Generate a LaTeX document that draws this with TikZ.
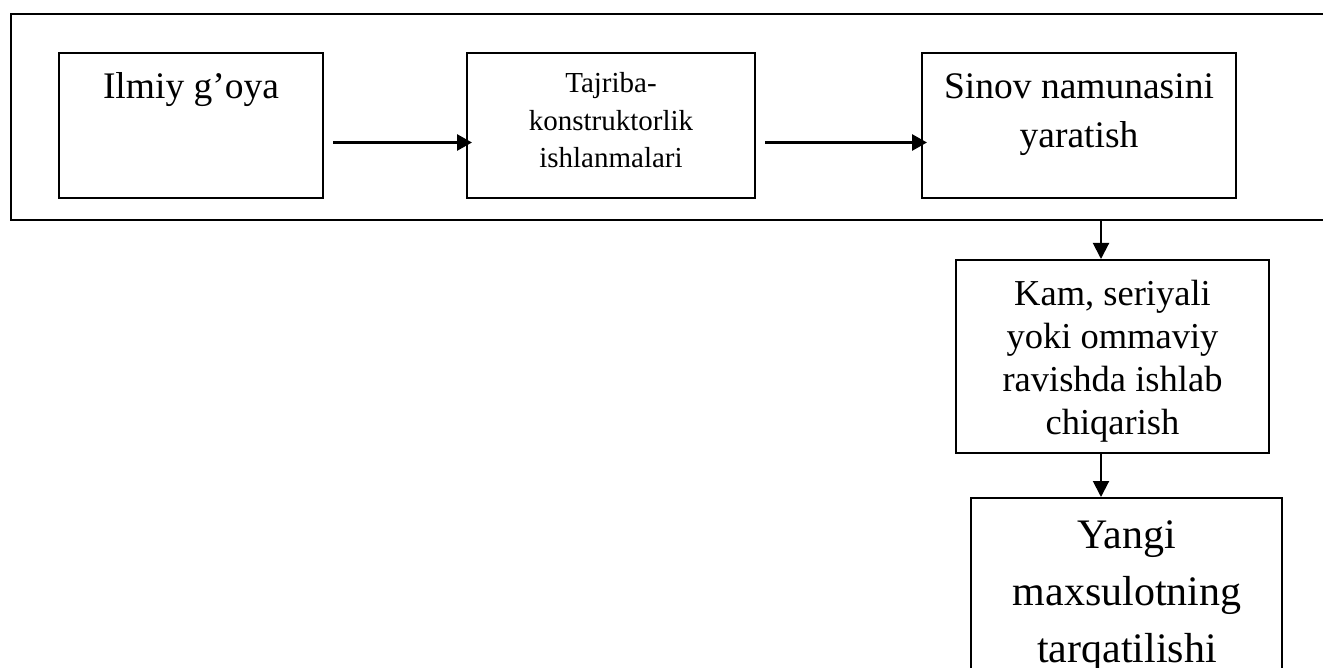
\documentclass[tikz,border=0pt]{standalone}
\usepackage{fontspec}
\setmainfont{Liberation Serif}
\usetikzlibrary{arrows.meta}
\newcommand{\mylines}[1]{\begin{tabular}[t]{@{}c@{}}#1\end{tabular}}
\tikzset{
  box/.style={draw=black, line width=2pt, inner sep=0pt, fill=none},
  txt/.style={inner sep=0pt, anchor=base, text=black},
  harr/.style={line width=2.8pt, -{Triangle[length=15pt,width=16pt]}},
  varr/.style={line width=2pt, -{Triangle[length=16pt,width=16pt]}},
  frame/.style={line width=2.5pt, line cap=rect}
}
\begin{document}
\begin{tikzpicture}[x=1pt,y=1pt]
\path[use as bounding box, clip] (0,0) rectangle (1323,-668);
% outer frame
\coordinate (ftr) at (1330,-14);
\coordinate (ftl) at (11,-14);
\coordinate (fbl) at (11,-220);
\coordinate (fbr) at (1330,-220);
\draw[frame] (ftr) -- (ftl) -- (fbl) -- (fbr);
% boxes
\node[box, minimum width=264pt, minimum height=145pt] (b1) at (191,-125.5) {};
\node[box, minimum width=288pt, minimum height=145pt] (b2) at (611,-125.5) {};
\node[box, minimum width=314pt, minimum height=145pt] (b3) at (1079,-125.5) {};
\node[box, minimum width=313pt, minimum height=193pt] (b4) at (1112.5,-356.5) {};
\node[box, minimum width=311pt, minimum height=222pt] (b5) at (1126.5,-609) {};
% texts
\node[txt, font=\fontsize{37.5}{49}\selectfont] (t1) at (191,-99) {Ilmiy g’oya};
\node[txt, font=\fontsize{29}{37.5}\selectfont] (t2) at (611,-93) {\mylines{Tajriba-\\konstruktorlik\\ishlanmalari}};
\node[txt, font=\fontsize{37.5}{49}\selectfont] (t3) at (1079,-99) {\mylines{Sinov namunasini\\yaratish}};
\node[txt, font=\fontsize{36.5}{43}\selectfont] (t4) at (1112.5,-306) {\mylines{Kam, seriyali\\yoki ommaviy\\ravishda ishlab\\chiqarish}};
\node[txt, font=\fontsize{42}{57}\selectfont] (t5) at (1127,-548) {\mylines{Yangi\\maxsulotning\\tarqatilishi}};
% connectors
\draw[harr] ([xshift=9pt,yshift=-17pt]b1.east) -- ([xshift=6pt,yshift=-17pt]b2.west);
\draw[harr] ([xshift=9pt,yshift=-17pt]b2.east) -- ([xshift=6pt,yshift=-17pt]b3.west);
\coordinate (c1) at (1101,-220);
\draw[varr] (c1) -- (c1 |- b4.north);
\draw[varr] (c1 |- b4.south) -- (c1 |- b5.north);
\end{tikzpicture}
\end{document}
